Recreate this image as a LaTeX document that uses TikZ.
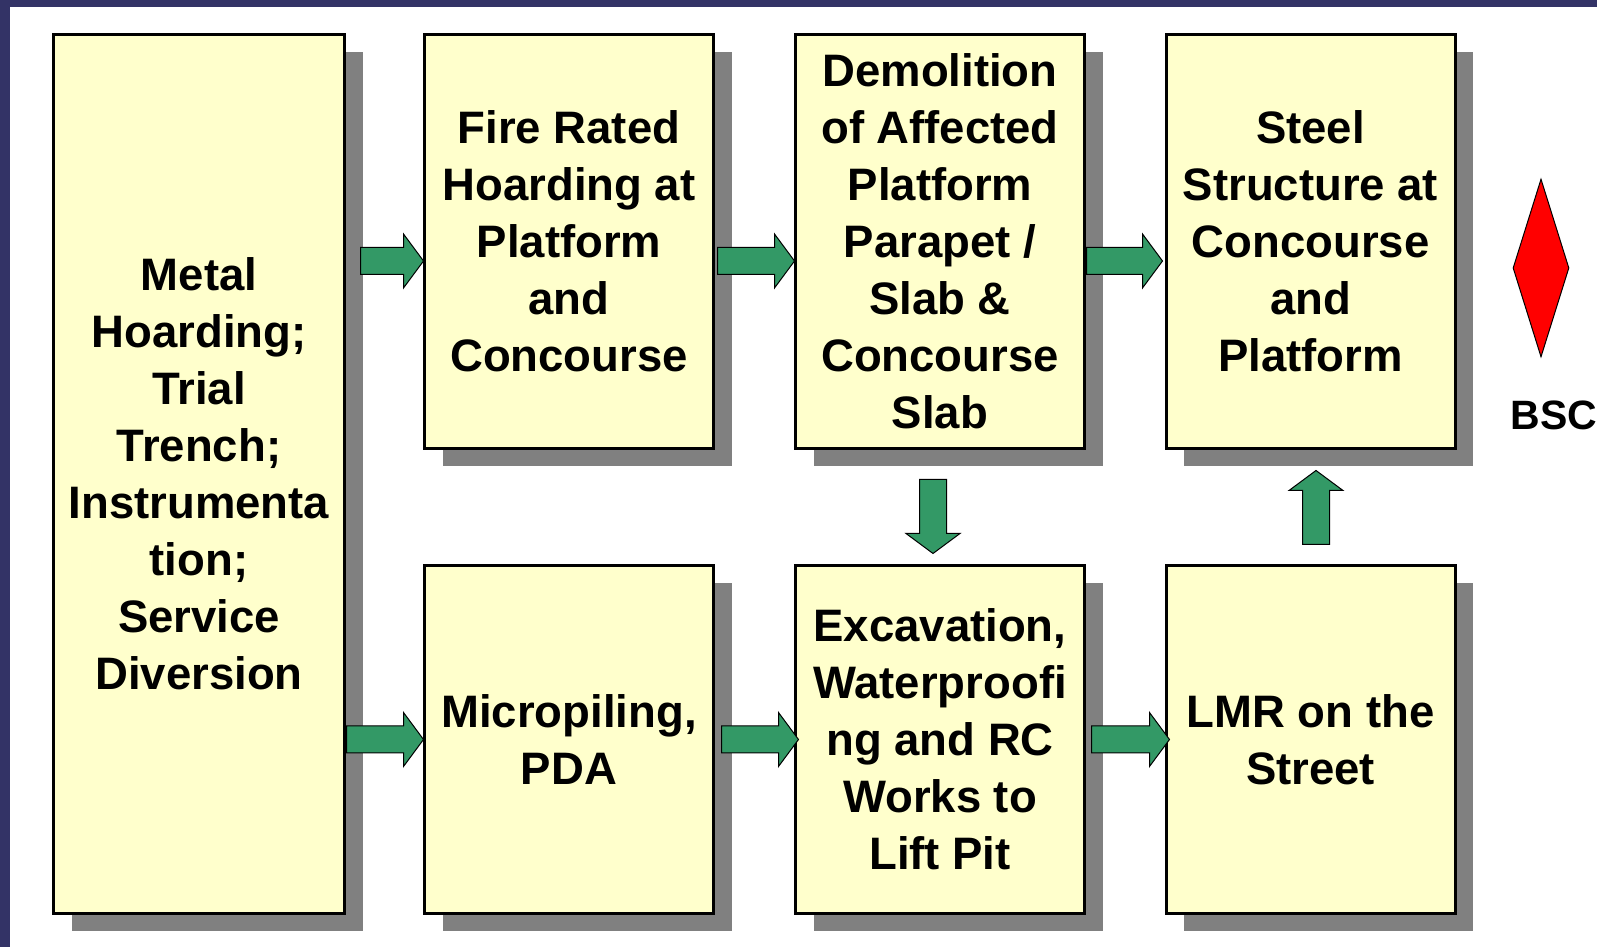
\documentclass[tikz,border=0pt]{standalone}
\usepackage{fontspec}
\setmainfont{Liberation Sans}
\usetikzlibrary{calc,shadows,shapes.geometric}

\definecolor{boxyellow}{HTML}{FFFFCC}
\definecolor{shadowgray}{HTML}{808080}
\definecolor{arrowgreen}{HTML}{339966}
\definecolor{framenavy}{HTML}{333366}

\tikzset{
  stage/.style={draw=black, line width=1.5pt, fill=boxyellow, align=center,
    inner sep=0pt, font=\bfseries\fontsize{22.75pt}{28.5pt}\selectfont,
    drop shadow={shadow xshift=9pt, shadow yshift=-9pt, fill=shadowgray, opacity=1}},
  topstage/.style={stage, minimum width=144.5pt, minimum height=207pt},
  lowstage/.style={stage, minimum width=144.5pt, minimum height=174pt},
  garrow/.style={draw=black, line width=0.5pt, fill=arrowgreen}
}

% block arrow from #1 (tail) to #2 (tip)
\newcommand{\blockarrow}[2]{%
  \draw[garrow] let \p1=#1, \p2=#2,
    \n1={atan2(\y2-\y1,\x2-\x1)}, \n2={veclen(\x2-\x1,\y2-\y1)} in
    [shift={(\p1)}, rotate=\n1]
    (0pt,-6.75pt) -- ({\n2-10pt},-6.75pt) -- ({\n2-10pt},-13.5pt) -- (\n2,0pt)
    -- ({\n2-10pt},13.5pt) -- ({\n2-10pt},6.75pt) -- (0pt,6.75pt) -- cycle;}

\begin{document}
\begin{tikzpicture}[x=0.5pt,y=0.5pt]
\useasboundingbox (0,0) rectangle (1597,947);
%frame
\fill[framenavy] (0,940) rectangle (1597,947);
\fill[framenavy] (0,0) rectangle (10,947);

\node[stage, minimum width=145.5pt, minimum height=439.5pt] (metal) at (199,473)
  {Metal\\Hoarding;\\Trial\\Trench;\\Instrumenta\\tion;\\Service\\Diversion};
\node[topstage] (fire) at (569,705.5) {Fire Rated\\Hoarding at\\Platform\\and\\Concourse};
\node[topstage] (demolition) at (940,705.5) {Demolition\\of Affected\\Platform\\Parapet /\\Slab \&\\Concourse\\Slab};
\node[topstage] (steel) at (1310.5,705.5) {Steel\\Structure at\\Concourse\\and\\Platform};
\node[lowstage] (micro) at (569,207.5) {Micropiling,\\PDA};
\node[lowstage] (excav) at (940,207.5) {Excavation,\\Waterproofi\\ng and RC\\Works to\\Lift Pit};
\node[lowstage] (lmr) at (1310.5,207.5) {LMR on the\\Street};

%top row
\blockarrow{($(fire.west)+(-62.5,-19.5)$)}{($(fire.west)+(0.5,-19.5)$)}
\blockarrow{($(demolition.west)+(-76.5,-19.5)$)}{($(demolition.west)+(0.5,-19.5)$)}
\blockarrow{($(steel.west)+(-78,-19.5)$)}{($(steel.west)+(-2,-19.5)$)}
%bottom row
\blockarrow{($(micro.west)+(-76.5,0)$)}{($(micro.west)+(0.5,0)$)}
\blockarrow{($(excav.west)+(-72.5,0)$)}{($(excav.west)+(4.5,0)$)}
\blockarrow{($(lmr.west)+(-73,0)$)}{($(lmr.west)+(5,0)$)}
%down and up
\blockarrow{($(demolition.south)+(-7,-29.5)$)}{($(excav.north)+(-7,10.5)$)}
\blockarrow{($(lmr.north)+(5.5,19.5)$)}{($(steel.south)+(5.5,-20.5)$)}

\node[diamond, draw=black, line width=0.5pt, fill=red, minimum width=28pt,
  minimum height=89pt, inner sep=0pt] (bscmark) at (1541,679) {};
\node[anchor=base west, inner sep=0pt, font=\bfseries\fontsize{20.5pt}{24pt}\selectfont]
  (bsc) at (1510,517) {BSC};
\end{tikzpicture}
\end{document}
